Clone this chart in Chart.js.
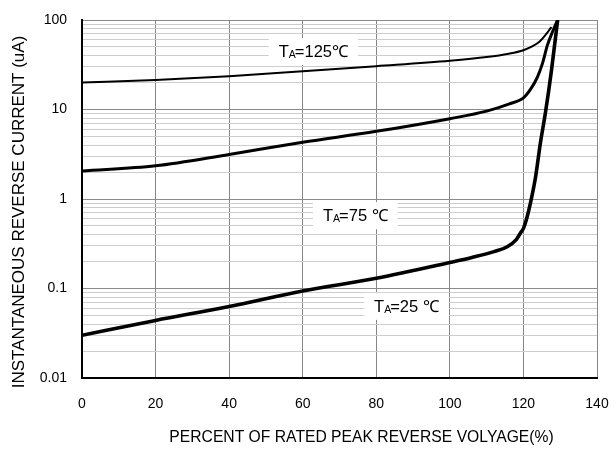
<!DOCTYPE html>
<html><head><meta charset="utf-8">
<script src="https://cdn.jsdelivr.net/npm/chart.js@4"></script>
<style>html,body{margin:0;padding:0;background:#fff}canvas{display:block}</style>
</head><body>
<canvas id="c" width="614" height="449"></canvas>
<script>
// ---- data ----
const xTickValues = [0, 20, 40, 60, 80, 100, 120, 140];
const yDecades = [0.01, 0.1, 1, 10, 100];

const x125 = [0, 20, 40, 60, 80, 100, 110, 116, 120, 122.5, 124.5, 126, 127.5];
const y125 = [20, 21.3, 23.5, 26.8, 30.5, 35, 38.5, 42, 46, 51, 58, 68, 82];

const x75 = [0, 20, 40, 60, 80, 100, 110, 116, 120, 122, 123.8, 125.2, 126.5, 127.8, 129.3];
const y75 = [2.05, 2.35, 3.15, 4.3, 5.7, 7.9, 9.6, 11.5, 13.5, 17, 23, 33, 52, 72, 100];

const x25 = [0, 20, 40, 60, 80, 100, 106, 112, 115.6, 118, 119.2, 120, 121, 121.9, 123.3, 124.6, 126, 127.6, 129.3];
const y25 = [0.03, 0.044, 0.063, 0.094, 0.13, 0.195, 0.222, 0.258, 0.293, 0.35, 0.417, 0.47, 0.63, 0.9, 1.76, 4.2, 9.3, 27, 100];

const seriesSub = ['A', 'A', 'A'];
const seriesSuffix = ['=125\u2103', '=75 \u2103', '=25 \u2103'];
const labelX = [62.9, 74.3, 88.2];
const labelY = [45, 0.66, 0.064];

const xTitle = 'PERCENT OF RATED PEAK REVERSE VOLYAGE(%)';
const yTitle = 'INSTANTANEOUS REVERSE CURRENT (uA)';

const FONT = "'Liberation Sans', Arial, sans-serif";

function pts(xs, ys) { return xs.map((x, i) => ({ x: x, y: ys[i] })); }

const yAllTicks = [];
for (const d of yDecades) {
  for (let m = 1; m <= 9; m++) {
    const v = Number((m * d).toPrecision(3));
    if (v > 100) break;
    yAllTicks.push({ value: v, major: m === 1 });
    if (d === 100) break;
  }
}

const labelPlugin = {
  id: 'curveLabels',
  beforeDatasetsDraw(chart) {
    const ctx = chart.ctx;
    const xs = chart.scales.x, ys = chart.scales.y;
    ctx.save();
    for (let i = 0; i < seriesSuffix.length; i++) {
      const px = xs.getPixelForValue(labelX[i]);
      const py = ys.getPixelForValue(labelY[i]);
      ctx.font = '16.5px ' + FONT;
      const wT = ctx.measureText('T').width;
      const wS = ctx.measureText(seriesSuffix[i]).width;
      ctx.font = '10.5px ' + FONT;
      const wA = ctx.measureText(seriesSub[i]).width;
      const w = wT + wA + wS - 1;
      ctx.fillStyle = '#fff';
      ctx.fillRect(px - w / 2 - 10, py - 13, w + 20, 27);
      ctx.fillStyle = '#000';
      ctx.textBaseline = 'alphabetic';
      ctx.textAlign = 'left';
      let cx = px - w / 2;
      const base = py + 6;
      ctx.font = '16.5px ' + FONT;
      ctx.fillText('T', cx, base);
      cx += wT;
      ctx.font = '10.5px ' + FONT;
      ctx.fillText(seriesSub[i], cx, base + 1);
      cx += wA - 1;
      ctx.font = '16.5px ' + FONT;
      ctx.fillText(seriesSuffix[i], cx, base);
    }
    ctx.restore();
  }
};

const titlePlugin = {
  id: 'axisTitles',
  afterDraw(chart) {
    const ctx = chart.ctx;
    const a = chart.chartArea;
    ctx.save();
    ctx.fillStyle = '#000';
    ctx.textAlign = 'center';
    ctx.textBaseline = 'middle';
    ctx.font = '15.7px ' + FONT;
    ctx.fillText(xTitle, (a.left + a.right) / 2 + 22, a.bottom + 60);
    ctx.translate(19, (a.top + a.bottom) / 2 + 13);
    ctx.rotate(-Math.PI / 2);
    ctx.font = '17px ' + FONT;
    ctx.fillText(yTitle, 0, 0);
    ctx.restore();
  }
};

new Chart(document.getElementById('c'), {
  type: 'line',
  data: {
    datasets: [
      { label: 'TA=125', data: pts(x125, y125), borderWidth: 2 },
      { label: 'TA=75', data: pts(x75, y75), borderWidth: 3 },
      { label: 'TA=25', data: pts(x25, y25), borderWidth: 3.6 }
    ].map(d => Object.assign({
      borderColor: '#000', backgroundColor: '#000', pointRadius: 0,
      fill: false, cubicInterpolationMode: 'monotone', borderCapStyle: 'round'
    }, d))
  },
  options: {
    responsive: false,
    animation: false,
    layout: { padding: { left: 0, right: 17, top: 20, bottom: 0 } },
    plugins: { legend: { display: false }, tooltip: { enabled: false } },
    scales: {
      x: {
        type: 'linear', min: 0, max: 140,
        afterFit(s) { s.height = 71; s.paddingLeft = 0; s.paddingRight = 0; },
        afterBuildTicks(s) { s.ticks = xTickValues.map(v => ({ value: v })); },
        ticks: { stepSize: 20, padding: 18, color: '#000', font: { family: FONT, size: 14 }, maxRotation: 0 },
        grid: { color: '#858585', lineWidth: 1, drawTicks: false },
        border: { color: '#000', width: 2 }
      },
      y: {
        type: 'logarithmic', min: 0.01, max: 100,
        afterFit(s) { s.width = 82; s.paddingTop = 0; s.paddingBottom = 0; },
        afterBuildTicks(s) { s.ticks = yAllTicks.map(t => ({ value: t.value, major: t.major })); },
        ticks: {
          autoSkip: false, padding: 15, color: '#000', font: { family: FONT, size: 14 },
          callback: (v, i, t) => (t[i] && t[i].major) ? String(v) : ''
        },
        grid: {
          drawTicks: false, lineWidth: 1,
          color: c => (c.tick && c.tick.major) ? '#8a8a8a' : '#cdcdcd'
        },
        border: { color: '#000', width: 2 }
      }
    }
  },
  plugins: [labelPlugin, titlePlugin]
});
</script>
</body></html>
